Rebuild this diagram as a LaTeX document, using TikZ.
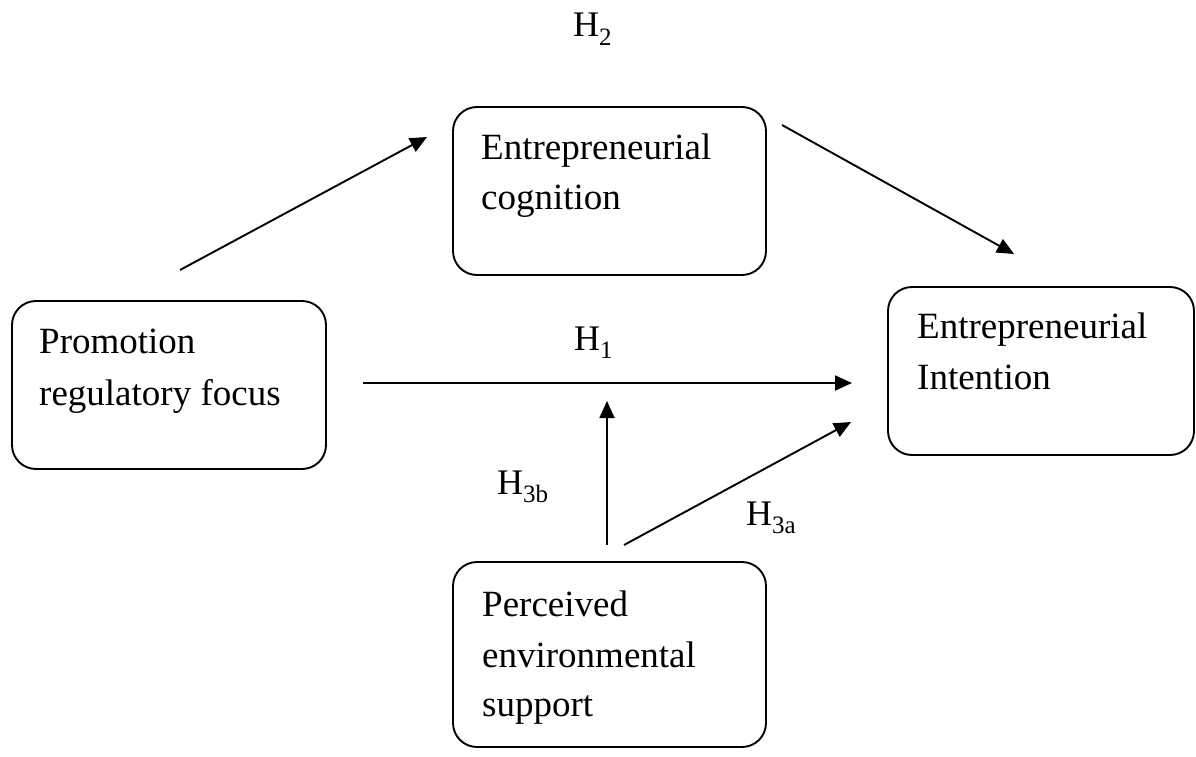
\documentclass[tikz,border=0pt]{standalone}
\usepackage{fontspec}
\setmainfont{Liberation Serif}
\usetikzlibrary{arrows.meta}
\newcommand{\hsub}[1]{\raisebox{-0.24em}{\fontsize{25}{25}\selectfont #1}}
\begin{document}
\begin{tikzpicture}[x=1pt,y=-1pt,
  box/.style={draw, line width=1.9pt, rounded corners=24pt, inner sep=0pt},
  txt/.style={anchor=base west, inner sep=0pt, font=\fontsize{37}{52}\selectfont},
  hyp/.style={anchor=base west, inner sep=0pt, font=\fontsize{36}{40}\selectfont},
  arr/.style={line width=1.9pt, -{Triangle[length=17pt,width=15pt]}}]
\useasboundingbox (0,0) rectangle (1196,757);
% boxes
\node[box, minimum width=314pt, minimum height=168pt] (A) at (169,385) {};
\node[box, minimum width=313pt, minimum height=168pt] (B) at (609.5,191) {};
\node[box, minimum width=306pt, minimum height=168pt] (C) at (1041,371) {};
\node[box, minimum width=313pt, minimum height=185pt] (D) at (609.5,654.5) {};
% box texts
\node[txt] (A1) at (39,353) {Promotion};
\node[txt] (A2) at (39,405) {regulatory focus};
\node[txt] (B1) at (481,159) {Entrepreneurial};
\node[txt] (B2) at (481,209) {cognition};
\node[txt] (C1) at (917,338) {Entrepreneurial};
\node[txt] (C2) at (917,389) {Intention};
\node[txt] (D1) at (482,616) {Perceived};
\node[txt] (D2) at (482,667) {environmental};
\node[txt] (D3) at (482,716) {support};
% hypothesis labels
\node[hyp] (H2) at (573,37) {H\hsub{2}};
\node[hyp] (H1) at (574,350) {H\hsub{1}};
\node[hyp] (H3b) at (497,494) {H\hsub{3b}};
\node[hyp] (H3a) at (746,525) {H\hsub{3a}};
% arrow end points
\coordinate (ab0) at (180,270);
\coordinate (ab1) at (427,137);
\coordinate (bc0) at (782,125);
\coordinate (bc1) at (1014,254);
\coordinate (ac0) at (363,383);
\coordinate (ac1) at (852,383);
\coordinate (dm0) at (607,545);
\coordinate (dm1) at (607,401);
\coordinate (dc0) at (624,545);
\coordinate (dc1) at (851,422);
\draw[arr] (ab0) -- (ab1);
\draw[arr] (bc0) -- (bc1);
\draw[arr] (ac0) -- (ac1);
\draw[arr] (dm0) -- (dm1);
\draw[arr] (dc0) -- (dc1);
\end{tikzpicture}
\end{document}
